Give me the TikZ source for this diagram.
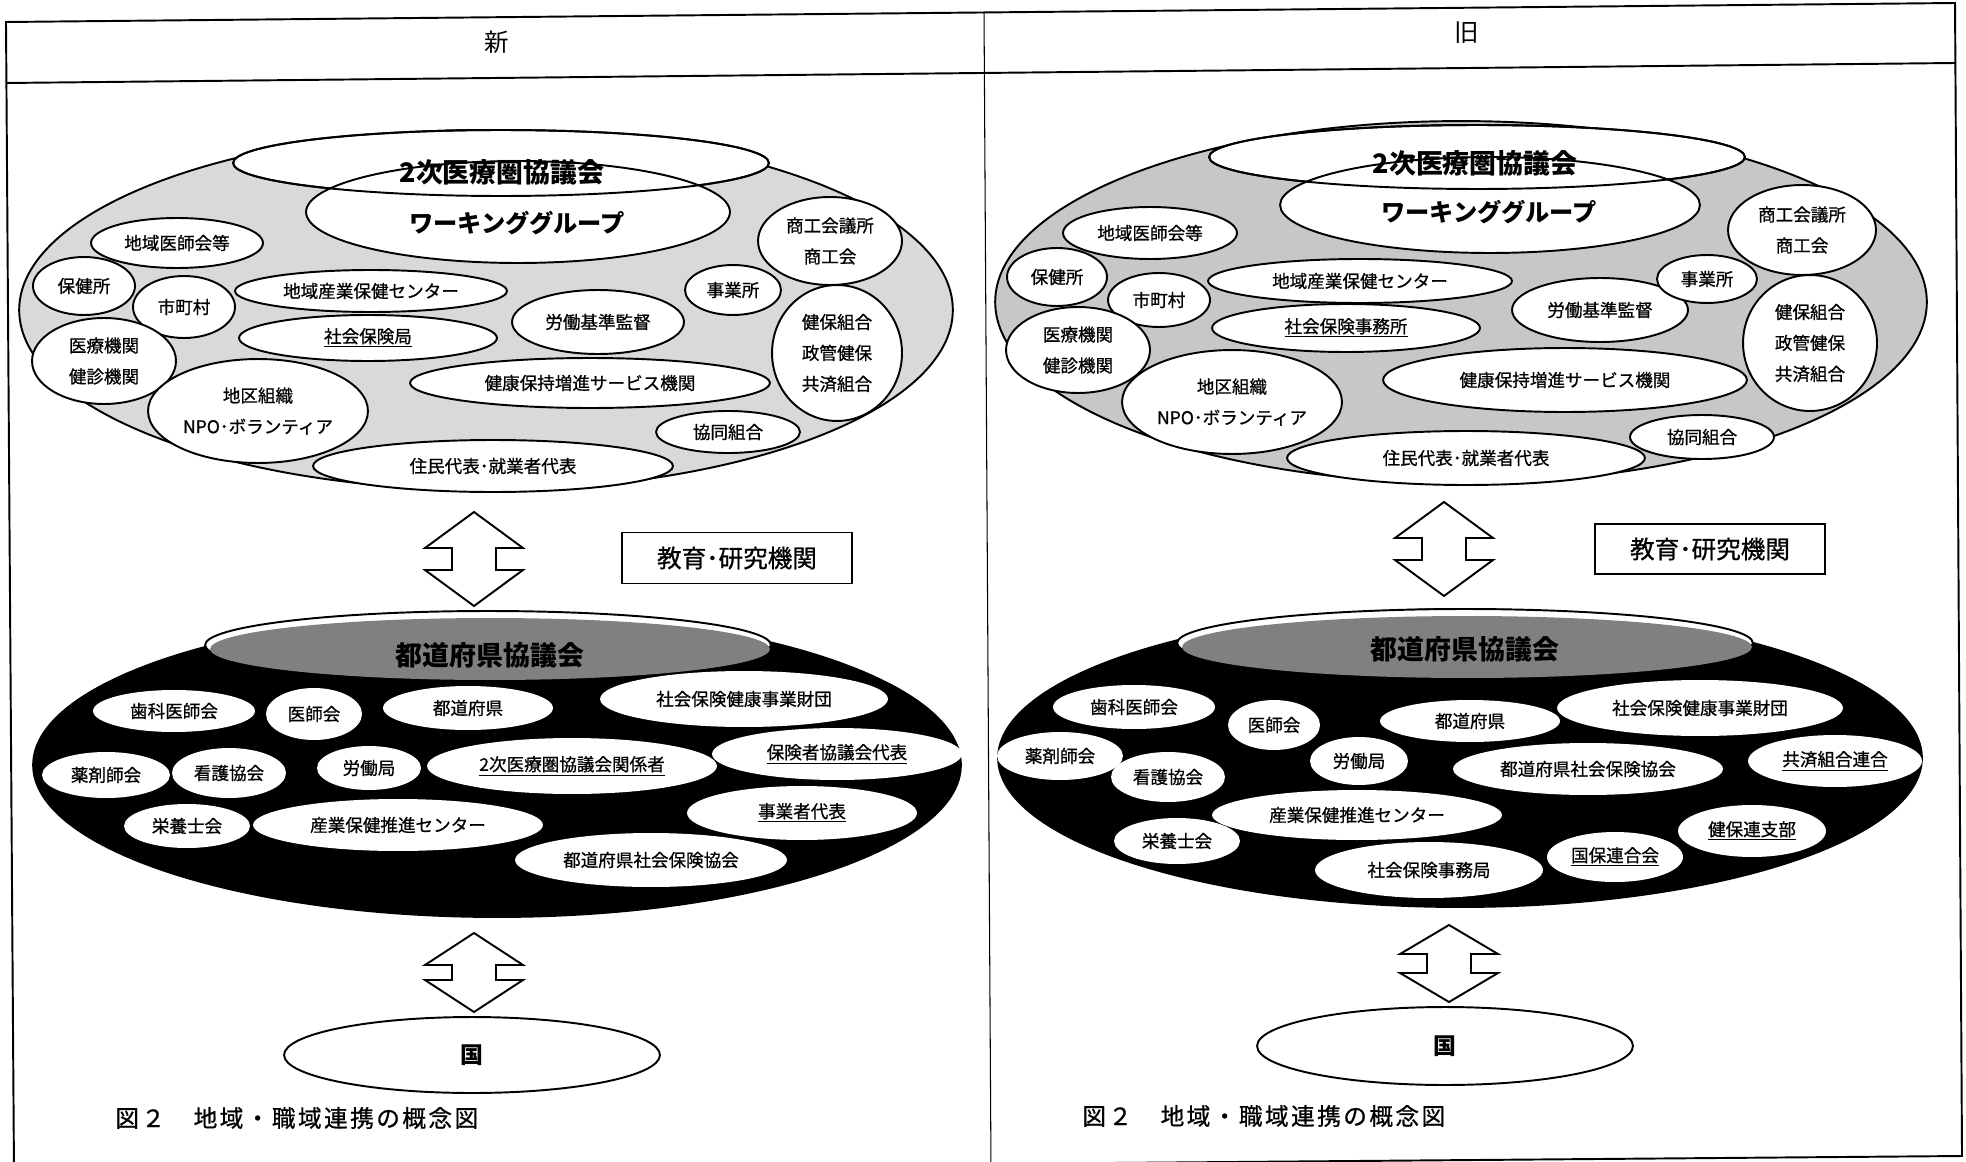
\documentclass[tikz,border=0pt]{standalone}
\usepackage{fontspec}
\setmainfont{Noto Sans CJK JP}
\newfontfamily\labfont[FakeBold=0.8]{Noto Sans CJK JP}
\newfontfamily\capfont[LetterSpace=10, FakeBold=0.8]{Noto Sans CJK JP}
\usetikzlibrary{shapes.geometric}

\tikzset{
  sz/.style 2 args={minimum width=#1*0.04cm, minimum height=#2*0.04cm},
  oval/.style={ellipse, draw, line width=1.1pt, fill=white, inner sep=0pt, align=center,
    font=\labfont\fontsize{10}{17.6}\selectfont},
  spot/.style={ellipse, fill=white, inner sep=0pt, align=center,
    font=\labfont\fontsize{10}{17.6}\selectfont},
  rim/.style={ellipse, draw, line width=1.1pt, inner sep=0pt},
  cluster/.style={ellipse, draw, line width=1.1pt, inner sep=0pt},
  blackpan/.style={ellipse, fill=black, inner sep=0pt},
  greylid/.style={ellipse, fill=black!50, inner sep=0pt},
  bigtxt/.style={inner sep=0pt, font=\fontsize{15.3}{18}\selectfont\bfseries},
  labbox/.style={draw, line width=1.1pt, fill=white, inner sep=0pt,
    font=\labfont\fontsize{14}{16}\selectfont},
  pics/dblarrow/.style 2 args={code={
    \draw[line width=1.1pt, fill=white] (0,0) -- (49,#1) -- (22,#1) -- (22,#1+#2)
      -- (49,#1+#2) -- (0,2*#1+#2) -- (-49,#1+#2) -- (-22,#1+#2) -- (-22,#1)
      -- (-49,#1) -- cycle;
  }}
}

\begin{document}
\begin{tikzpicture}[x=0.02cm, y=-0.02cm]
  \useasboundingbox (0,0) rectangle (1966,1162);

  % frame and header
  \draw[line width=1.1pt] (6,22) -- (1955,3) -- (1962,1156) -- (14,1172) -- cycle;
  \draw[line width=1.1pt] (6,83) -- (1955,63);
  \draw[line width=0.6pt] (984,12) -- (991,1170);
  \node[font=\fontsize{14}{16}\selectfont] (newH) at (497,42) {新};
  \node[font=\fontsize{14}{16}\selectfont] (oldH) at (1467,33) {旧};

  % ---------- new: secondary medical area ----------
  \node[cluster, fill=black!15, sz={467}{180}] (areaN) at (486,310) {};
  \node[rim, fill=white, sz={268}{33}] (iryoN) at (501,163) {};
  \node[rim, fill=white, sz={212}{51}] (wgN) at (518,212) {};
  \node[rim, sz={268}{33}] (iryoNrim) at (501,163) {};
  \node[bigtxt] (iryoNt) at (502,172) {2次医療圏協議会};
  \node[bigtxt, font=\fontsize{13.8}{16}\selectfont\bfseries] (wgNt) at (517,223) {ワーキンググループ};

  \node[oval, sz={86}{25}] (ishiN) at (177,243) {地域医師会等};
  \node[oval, sz={51}{29}] (hokenN) at (84,286) {保健所};
  \node[oval, sz={51}{31}] (shiN) at (184,307) {市町村};
  \node[oval, sz={72}{43}] (iryoKN) at (104,361) {医療機関\\健診機関};
  \node[oval, sz={110}{52}] (chikuN) at (258,411) {地区組織\\NPO･ボランティア};
  \node[oval, sz={136}{21}] (sangyoN) at (371,291) {地域産業保健センター};
  \node[oval, sz={129}{23}] (shahoN) at (368,338) {\underline{社会保険局}};
  \node[oval, sz={180}{25}] (kenkoN) at (590,383) {健康保持増進サービス機関};
  \node[oval, sz={180}{26}] (juminN) at (493,466) {住民代表･就業者代表};
  \node[oval, sz={86}{32}] (rokiN) at (598,322) {労働基準監督};
  \node[oval, sz={48}{25}] (jigyoN) at (733,290) {事業所};
  \node[oval, sz={72}{44}] (shokoN) at (830,241) {商工会議所\\商工会};
  \node[oval, sz={65}{68}] (kenpoN) at (837,353) {健保組合\\政管健保\\共済組合};
  \node[oval, sz={72}{21}] (kyodoN) at (728,432) {協同組合};

  \pic at (474,512) {dblarrow={36}{22}};
  \node[labbox, sz={115}{25.5}] (eduN) at (737,558) {教育･研究機関};

  % ---------- new: prefecture ----------
  \node[blackpan, sz={465}{153}] (prefN) at (497,765) {};
  \node[rim, fill=white, sz={283}{34}] (kyogiN) at (488,645) {};
  \node[greylid, sz={280}{31}] (kyogiNg) at (490,649) {};
  \node[bigtxt] (kyogiNt) at (490,655) {都道府県協議会};

  \node[spot, sz={81}{21}] (shikaN) at (174,711) {歯科医師会};
  \node[spot, sz={48}{26}] (ishikaiN) at (314,714) {医師会};
  \node[spot, sz={85}{22}] (todoN) at (468,708) {都道府県};
  \node[spot, sz={144}{28}] (zaidanN) at (744,699) {社会保険健康事業財団};
  \node[spot, sz={64}{23}] (yakuN) at (106,775) {薬剤師会};
  \node[spot, sz={57}{25}] (kangoN) at (229,773) {看護協会};
  \node[spot, sz={52}{22}] (rokyokuN) at (369,768) {労働局};
  \node[spot, sz={145}{28}] (kankeiN) at (572,766) {\underline{2次医療圏協議会関係者}};
  \node[spot, sz={125}{26}] (hokenshaN) at (837,754) {\underline{保険者協議会代表}};
  \node[spot, sz={63}{22}] (eiyoN) at (187,826) {栄養士会};
  \node[spot, sz={145}{26}] (suishinN) at (398,825) {産業保健推進センター};
  \node[spot, sz={115}{27}] (jigyoshaN) at (802,813) {\underline{事業者代表}};
  \node[spot, sz={136}{27}] (kyokaiN) at (651,860) {都道府県社会保険協会};

  \pic at (474,933) {dblarrow={32}{15}};
  \node[rim, fill=white, sz={188}{38}, font=\fontsize{13}{15}\selectfont\bfseries] (kuniN) at (472,1055) {国};
  \node[anchor=west, inner sep=0pt, font=\capfont\fontsize{13.5}{15}\selectfont] (capN) at (115,1118) {図２　地域・職域連携の概念図};

  % ---------- old: secondary medical area ----------
  \node[cluster, fill=black!22, sz={466}{181}] (areaO) at (1461,302) {};
  \node[rim, fill=white, sz={268}{32}] (iryoO) at (1477,157) {};
  \node[rim, fill=white, sz={210}{48}] (wgO) at (1490,205) {};
  \node[rim, sz={268}{32}] (iryoOrim) at (1477,157) {};
  \node[bigtxt] (iryoOt) at (1475,163) {2次医療圏協議会};
  \node[bigtxt, font=\fontsize{13.8}{16}\selectfont\bfseries] (wgOt) at (1489,212) {ワーキンググループ};

  \node[oval, sz={87}{26}] (ishiO) at (1150,233) {地域医師会等};
  \node[oval, sz={50}{29}] (hokenO) at (1057,277) {保健所};
  \node[oval, sz={51}{27}] (shiO) at (1159,300) {市町村};
  \node[oval, sz={72}{43}] (iryoKO) at (1078,350) {医療機関\\健診機関};
  \node[oval, sz={110}{52}] (chikuO) at (1232,402) {地区組織\\NPO･ボランティア};
  \node[oval, sz={152}{22}] (sangyoO) at (1360,281) {地域産業保健センター};
  \node[oval, sz={134}{24}] (shahoO) at (1346,328) {\underline{社会保険事務所}};
  \node[oval, sz={182}{32}] (kenkoO) at (1565,380) {健康保持増進サービス機関};
  \node[oval, sz={179}{27}] (juminO) at (1466,458) {住民代表･就業者代表};
  \node[oval, sz={88}{32}] (rokiO) at (1600,310) {労働基準監督};
  \node[oval, sz={50}{24}] (jigyoO) at (1707,279) {事業所};
  \node[oval, sz={74}{45}] (shokoO) at (1802,230) {商工会議所\\商工会};
  \node[oval, sz={67}{68}] (kenpoO) at (1810,343) {健保組合\\政管健保\\共済組合};
  \node[oval, sz={72}{22}] (kyodoO) at (1702,437) {協同組合};

  \pic at (1444,502) {dblarrow={36}{22}};
  \node[labbox, sz={115}{25}] (eduO) at (1710,549) {教育･研究機関};

  % ---------- old: prefecture ----------
  \node[blackpan, sz={463}{150}] (prefO) at (1460,758) {};
  \node[rim, fill=white, sz={288}{34}] (kyogiO) at (1465,643) {};
  \node[greylid, sz={285}{31}] (kyogiOg) at (1467,647) {};
  \node[bigtxt] (kyogiOt) at (1465,649) {都道府県協議会};

  \node[spot, sz={81}{22}] (shikaO) at (1134,707) {歯科医師会};
  \node[spot, sz={46}{25}] (ishikaiO) at (1274,725) {医師会};
  \node[spot, sz={90}{21}] (todoO) at (1470,721) {都道府県};
  \node[spot, sz={143}{28}] (zaidanO) at (1700,708) {社会保険健康事業財団};
  \node[spot, sz={63}{24}] (yakuO) at (1060,756) {薬剤師会};
  \node[spot, sz={57}{25}] (kangoO) at (1168,777) {看護協会};
  \node[spot, sz={49}{24}] (rokyokuO) at (1359,761) {労働局};
  \node[spot, sz={135}{26}] (kyokaiO) at (1588,769) {都道府県社会保険協会};
  \node[spot, sz={87}{26}] (kyosaiO) at (1835,761) {\underline{共済組合連合}};
  \node[spot, sz={63}{23}] (eiyoO) at (1177,841) {栄養士会};
  \node[spot, sz={145}{25}] (suishinO) at (1357,815) {産業保健推進センター};
  \node[spot, sz={114}{28}] (jimukyokuO) at (1429,870) {社会保険事務局};
  \node[spot, sz={68}{25}] (kokuhoO) at (1615,857) {\underline{国保連合会}};
  \node[spot, sz={74}{26}] (kenporenO) at (1752,831) {\underline{健保連支部}};

  \pic at (1449,925) {dblarrow={29}{19}};
  \node[rim, fill=white, sz={188}{39}, font=\fontsize{13}{15}\selectfont\bfseries] (kuniO) at (1445,1046) {国};
  \node[anchor=west, inner sep=0pt, font=\capfont\fontsize{13.5}{15}\selectfont] (capO) at (1082,1116) {図２　地域・職域連携の概念図};
\end{tikzpicture}
\end{document}
